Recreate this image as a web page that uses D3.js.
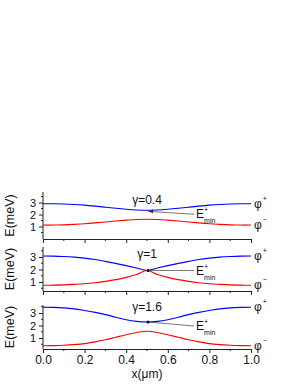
<!DOCTYPE html>
<html>
<head>
<meta charset="utf-8">
<script src="https://cdn.jsdelivr.net/npm/d3@7"></script>
<style>
  body { margin: 0; background: #fff; }
  text { font-family: "Liberation Sans", Arial, sans-serif; }
</style>
</head>
<body>
<svg id="chart" width="298" height="385"></svg>
<script>
// x positions (um)
var xs = [0, 0.05, 0.1, 0.15, 0.2, 0.25, 0.3, 0.35, 0.4, 0.45, 0.5,
          0.55, 0.6, 0.65, 0.7, 0.75, 0.8, 0.85, 0.9, 0.95, 1.0];

// gamma = 0.4
var upper04 = [2.90, 2.90, 2.88, 2.84, 2.78, 2.70, 2.61, 2.52, 2.44, 2.38, 2.35,
               2.38, 2.44, 2.52, 2.61, 2.70, 2.78, 2.84, 2.88, 2.90, 2.90];
var lower04 = [1.12, 1.12, 1.14, 1.18, 1.23, 1.30, 1.38, 1.46, 1.53, 1.59, 1.61,
               1.59, 1.53, 1.46, 1.38, 1.30, 1.23, 1.18, 1.14, 1.12, 1.12];
// gamma = 1
var upper10 = [3.08, 3.07, 3.04, 2.99, 2.91, 2.80, 2.65, 2.49, 2.31, 2.12, 1.92,
               2.12, 2.31, 2.49, 2.65, 2.80, 2.91, 2.99, 3.04, 3.07, 3.08];
var lower10 = [0.74, 0.75, 0.77, 0.81, 0.86, 0.94, 1.05, 1.19, 1.37, 1.60, 1.92,
               1.60, 1.37, 1.19, 1.05, 0.94, 0.86, 0.81, 0.77, 0.75, 0.74];
// gamma = 1.6
var upper16 = [3.46, 3.45, 3.41, 3.33, 3.20, 3.05, 2.87, 2.66, 2.46, 2.33, 2.28,
               2.33, 2.46, 2.66, 2.87, 3.05, 3.20, 3.33, 3.41, 3.45, 3.46];
var lower16 = [0.38, 0.39, 0.42, 0.47, 0.55, 0.69, 0.86, 1.06, 1.26, 1.44, 1.54,
               1.44, 1.26, 1.06, 0.86, 0.69, 0.55, 0.47, 0.42, 0.39, 0.38];

var gammaLabels = ["\u03b3=0.4", "\u03b3=1", "\u03b3=1.6"];
var yTicks = [1, 2, 3];
var xTicks = [0, 0.2, 0.4, 0.6, 0.8, 1.0];

var panels = [
  { upper: upper04, lower: lower04, label: gammaLabels[0], domain: [-0.04, 3.875], top: 192, bottom: 239, labelY: 204, eDy: 4, arrow: true },
  { upper: upper10, lower: lower10, label: gammaLabels[1], domain: [0.28, 3.8], top: 247, bottom: 291, labelY: 258, eDy: 0, arrow: false },
  { upper: upper16, lower: lower16, label: gammaLabels[2], domain: [0.12, 3.64], top: 305, bottom: 349, labelY: 311, eDy: 4, arrow: false }
];

var svg = d3.select("#chart");
var axisColor = "#222";

var x = d3.scaleLinear().domain([0, 1]).range([43, 251]);

panels.forEach(function(p, i) {
  var y = d3.scaleLinear().domain(p.domain).range([p.bottom, p.top]);
  var g = svg.append("g");
  var last = i === panels.length - 1;

  // y axis
  var yAxis = d3.axisLeft(y).tickValues(yTicks).tickFormat(d3.format("d")).tickSize(4).tickSizeOuter(0);
  var ya = g.append("g").attr("transform", "translate(" + x.range()[0] + ",0)").call(yAxis);
  ya.select(".domain").attr("stroke", axisColor).attr("d", "M0," + p.top + "V" + p.bottom);
  ya.selectAll(".tick line").attr("stroke", axisColor);
  ya.selectAll(".tick text").attr("font-size", 11).attr("fill", "#111").attr("x", -7);
  var yMinor = [0.5, 1.5, 2.5, 3.5].filter(function(v) { return v > p.domain[0] && v < p.domain[1]; });
  g.selectAll(".yminor").data(yMinor).enter().append("line")
    .attr("x1", x.range()[0] - 2).attr("x2", x.range()[0])
    .attr("y1", y).attr("y2", y).attr("stroke", axisColor);

  // x axis
  var xAxis = d3.axisBottom(x).tickValues(xTicks).tickSize(4).tickSizeOuter(0)
    .tickFormat(last ? d3.format(".1f") : function() { return ""; });
  var xa = g.append("g").attr("transform", "translate(0," + p.bottom + ")").call(xAxis);
  xa.select(".domain").attr("stroke", axisColor);
  xa.selectAll(".tick line").attr("stroke", axisColor);
  xa.selectAll(".tick text").attr("font-size", 12).attr("fill", "#111").attr("y", 6);
  g.selectAll(".xminor").data([0.1, 0.3, 0.5, 0.7, 0.9]).enter().append("line")
    .attr("x1", x).attr("x2", x)
    .attr("y1", p.bottom).attr("y2", p.bottom + 2).attr("stroke", axisColor);

  // y title
  g.append("text")
    .attr("transform", "translate(14," + ((p.top + p.bottom) / 2) + ") rotate(-90)")
    .attr("text-anchor", "middle").attr("font-size", 12.5).attr("fill", "#111")
    .text("E(meV)");

  // curves
  var line = d3.line().x(function(d, k) { return x(xs[k]); }).y(function(d) { return y(d); })
    .curve(d3.curveCatmullRom);
  g.append("path").datum(p.upper).attr("d", line)
    .attr("fill", "none").attr("stroke", "#0000ff").attr("stroke-width", 1.1);
  g.append("path").datum(p.lower).attr("d", line)
    .attr("fill", "none").attr("stroke", "#ff0000").attr("stroke-width", 1.1);

  // gamma label
  g.append("text").attr("x", x(0.5)).attr("y", p.labelY)
    .attr("text-anchor", "middle").attr("font-size", 12).attr("fill", "#111")
    .text(p.label);

  // E+min annotation
  var mx = x(0.5) + 1, my = y(p.upper[10]);
  var lx = 194, ly = my + p.eDy;
  g.append("line").attr("x1", mx).attr("y1", my + (i === 0 ? 1 : 0)).attr("x2", lx).attr("y2", ly)
    .attr("stroke", "#555").attr("stroke-width", 0.8);
  if (p.arrow) {
    g.append("path").attr("d", "M" + (mx) + "," + (my + 1) + "l5,-2l0,4z").attr("fill", "#333");
  } else {
    g.append("circle").attr("cx", mx).attr("cy", my).attr("r", 1.6).attr("fill", "#111");
  }
  var et = g.append("text").attr("x", lx + 2).attr("y", ly + 4).attr("font-size", 12).attr("fill", "#111");
  et.append("tspan").text("E");
  et.append("tspan").attr("font-size", 7).attr("dy", -6).text("+");
  et.append("tspan").attr("font-size", 7).attr("dx", -4).attr("dy", 11).text("min");

  // phi labels
  [[p.upper[20], "+"], [p.lower[20], "\u2212"]].forEach(function(q) {
    var t = g.append("text").attr("x", x(1) + 3).attr("y", y(q[0]) + 4)
      .attr("font-size", 12).attr("fill", "#111");
    t.append("tspan").text("\u03c6");
    t.append("tspan").attr("font-size", 7).attr("dy", -7).attr("dx", 1).text(q[1]);
  });
});

// x title
svg.append("text").attr("x", x(0.5)).attr("y", 378).attr("text-anchor", "middle")
  .attr("font-size", 12).attr("fill", "#111").text("x(\u03bcm)");
</script>
</body>
</html>
